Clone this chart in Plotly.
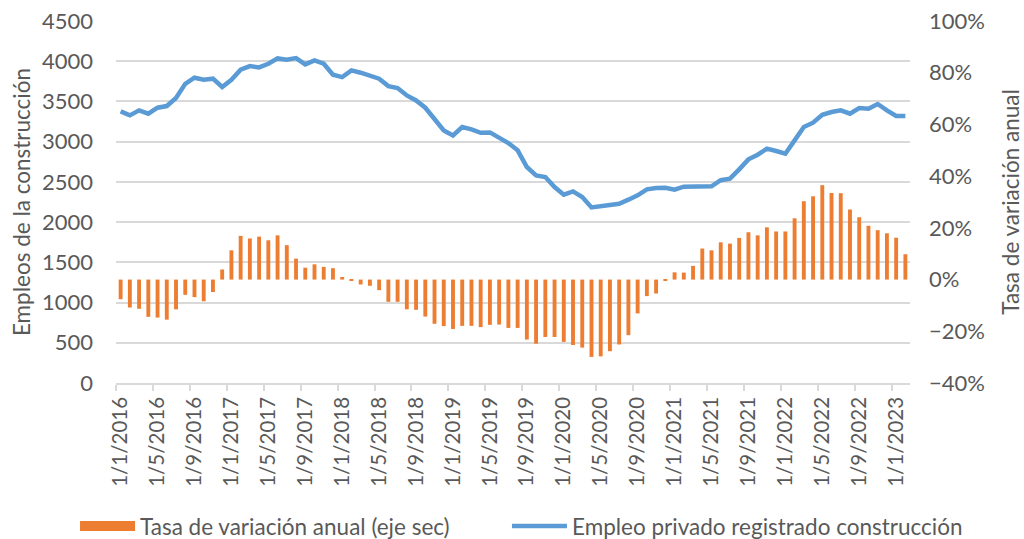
import plotly.graph_objects as go

# Monthly data, Jan 2016 .. Feb 2023
years_months = [(2016 + (i // 12), (i % 12) + 1) for i in range(86)]
labels = [f"1/{m}/{y}" for (y, m) in years_months]

empleo = [
    3376, 3327, 3389, 3348, 3422, 3443, 3542, 3720, 3795, 3770, 3783, 3679,
    3770, 3894, 3940, 3923, 3969, 4035, 4019, 4039, 3961, 4010, 3969, 3832,
    3803, 3886, 3857, 3820, 3783, 3691, 3667, 3575, 3513, 3422, 3285, 3140,
    3078, 3182, 3153, 3111, 3115, 3045, 2983, 2892, 2685, 2581, 2560, 2436,
    2341, 2382, 2312, 2183, 2198, 2200, 2229, 2279, 2333, 2407, 2424, 2426,
    2403, 2440, 2445, 2440, 2445, 2521, 2540, 2656, 2780, 2838, 2913, 2884,
    2850, 3016, 3182, 3236, 3335, 3368, 3389, 3348, 3418, 3410, 3468, 3389,
    3319, 3319,
]

tasa = [
    -7.6, -10.8, -11.3, -14.4, -14.7, -15.5, -11.5, -5.9, -6.8, -8.4, -4.8, 3.9,
    11.3, 16.9, 15.9, 16.6, 15.2, 17.1, 13.3, 8.1, 4.6, 5.9, 4.9, 4.4,
    1.0, -0.2, -1.9, -2.4, -4.1, -8.6, -8.6, -11.5, -11.7, -14.3, -17.1, -18.0,
    -19.1, -17.9, -17.9, -18.4, -17.5, -17.4, -18.7, -18.7, -23.2, -24.8, -22.2, -22.2,
    -24.1, -25.3, -26.3, -29.9, -29.7, -27.7, -25.1, -21.5, -13.1, -6.4, -5.4, -0.4,
    2.8, 2.7, 5.3, 12.0, 11.3, 14.4, 13.9, 16.1, 18.3, 17.1, 20.2, 18.6,
    18.6, 23.7, 30.3, 32.2, 36.5, 33.5, 33.4, 27.1, 24.1, 20.8, 19.1, 17.9,
    16.2, 9.8,
]
tasa_frac = [v / 100 for v in tasa]

x = list(range(len(labels)))
tick_idx = list(range(0, len(labels), 4))
tick_text = [labels[i] for i in tick_idx]

FONT = "Lato"
TXT = "#595959"
GRID = "#D9D9D9"
ORANGE = "#ED7D31"
BLUE = "#5B9BD5"
BAR_NAME = "Tasa de variación anual (eje sec)"
LINE_NAME = "Empleo privado registrado construcción"

fig = go.Figure()
fig.add_trace(go.Bar(
    x=x, y=tasa_frac, name=BAR_NAME, showlegend=False,
    marker=dict(color=ORANGE, line=dict(width=0)), yaxis="y2",
))
# legend key for the bars (wide rectangle swatch, as in the original)
fig.add_trace(go.Scatter(
    x=[None], y=[None], name=BAR_NAME, mode="lines",
    line=dict(color=ORANGE, width=14), yaxis="y2", legend="legend", hoverinfo="skip",
))
fig.add_trace(go.Scatter(
    x=x, y=empleo, name=LINE_NAME, legend="legend2",
    mode="lines", line=dict(color=BLUE, width=4.5), yaxis="y",
))

leg_common = dict(orientation="h", y=-0.396, yanchor="middle", xanchor="left",
                  font=dict(size=22.5, color=TXT), itemwidth=55,
                  bgcolor="rgba(0,0,0,0)")

fig.update_layout(
    width=1024, height=539,
    margin=dict(l=116, r=114, t=21, b=156, autoexpand=False),
    paper_bgcolor="white", plot_bgcolor="white",
    font=dict(family=FONT, size=22, color=TXT),
    bargap=0.58,
    showlegend=True,
    legend=dict(x=-0.0516, **leg_common),
    legend2=dict(x=0.4924, **leg_common),
    xaxis=dict(
        range=[-0.5, 85.5], tickmode="array", tickvals=tick_idx, ticktext=tick_text,
        tickangle=-90, ticks="", showgrid=False, zeroline=False, automargin=False,
        showline=True, linecolor=GRID, linewidth=1.5,
        ticklabelstandoff=4, tickfont=dict(size=20.5),
        minor=dict(tickmode="array", tickvals=[i - 0.5 for i in tick_idx],
                   ticks="outside", ticklen=6, tickcolor=GRID, tickwidth=1.5, showgrid=False),
    ),
    yaxis=dict(
        range=[0, 4500], dtick=500, tick0=0, showgrid=True, gridcolor=GRID, gridwidth=1.5,
        zeroline=False, ticks="", ticklabelstandoff=22, automargin=True,
        title=dict(text="Empleos de la construcción", font=dict(size=22.5, color=TXT), standoff=5),
    ),
    yaxis2=dict(
        range=[-0.4, 1.0], dtick=0.2, tick0=0, overlaying="y", side="right",
        tickformat=".0%", showgrid=False, zeroline=False, ticks="", ticklabelstandoff=18,
        automargin=False,
        title=dict(text="Tasa de variación anual", font=dict(size=22.5, color=TXT), standoff=24),
    ),
)

fig.write_html("out.html", config={"displayModeBar": False},
               post_script="document.body.style.margin='0px';")
